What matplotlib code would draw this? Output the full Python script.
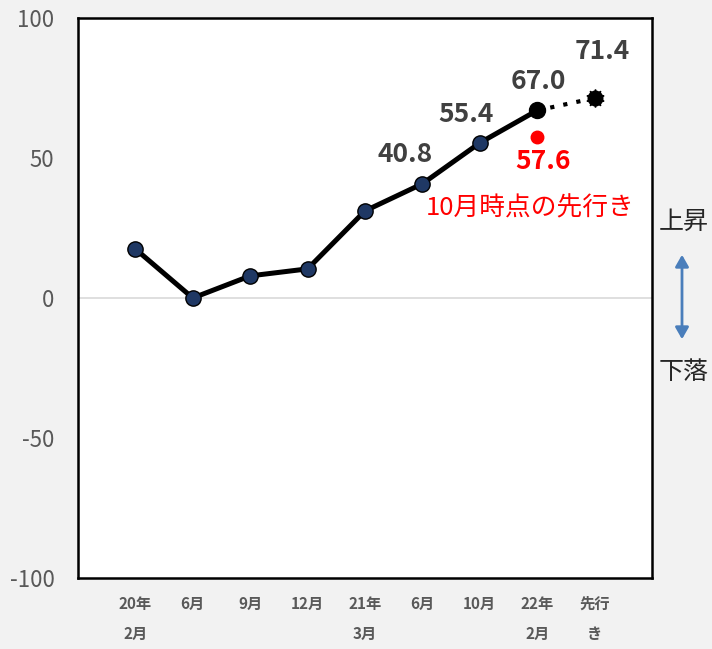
import matplotlib.pyplot as plt

plt.rcParams['font.family'] = ['Noto Sans CJK JP', 'DejaVu Sans']
plt.rcParams['axes.unicode_minus'] = False

# data
categories = ['20年\n2月', '6月', '9月', '12月', '21年\n3月', '6月', '10月', '22年\n2月', '先行\nき']
values = [17.5, 0.0, 7.9, 10.4, 31.1, 40.8, 55.4, 67.0, 71.4]
prev_forecast = 57.6   # 10月時点の先行き
labeled = {5: '40.8', 6: '55.4', 7: '67.0', 8: '71.4'}
label_offsets = {5: (-17, 29), 6: (-14, 28), 7: (1, 29), 8: (8, 47)}

fig = plt.figure(figsize=(7.12, 6.49), dpi=100, facecolor='#f2f2f2')
ax = fig.add_axes([78/712, 1-578/649, 574/712, 560/649])
ax.set_facecolor('white')

x = list(range(len(values)))
# solid part
ax.plot(x[:8], values[:8], color='black', lw=3.6, zorder=3)
ax.plot(x[:7], values[:7], 'o', ms=11, mfc='#1f3864', mec='black', mew=1, zorder=4)
# forecast part
ax.plot(x[7:], values[7:], color='black', lw=3, ls=(0, (1, 2.2)), zorder=3)
ax.plot([x[7]], [values[7]], 'o', ms=11.5, color='black', zorder=4)
ax.plot([x[8]], [values[8]], 'o', ms=10, mfc='black', mec='black', mew=1.5, ls='', zorder=4)
ax.plot([x[8]], [values[8]], marker=(10, 1, 0), ms=13, color='black', zorder=4)
# previous forecast
ax.plot([x[7]], [prev_forecast], 'o', ms=9, color='#ff0000', zorder=4)

for i, txt in labeled.items():
    ax.annotate(txt, (x[i], values[i]), xytext=label_offsets[i], textcoords='offset pixels',
                ha='center', va='center', fontsize=19, fontweight='bold', color='#404040')
ax.annotate(f'{prev_forecast:.1f}', (x[7], prev_forecast), xytext=(6, -25), textcoords='offset pixels',
            ha='center', va='center', fontsize=19, fontweight='bold', color='#ff0000')
ax.annotate('10月時点の先行き', (x[7], prev_forecast), xytext=(-7, -72), textcoords='offset pixels',
            ha='center', va='center', fontsize=18.5, color='#ff0000')

ax.axhline(0, color='#d9d9d9', lw=1.2, zorder=1)
ax.set_xlim(-1, 9)
ax.set_ylim(-100, 100)
ax.set_yticks([-100, -50, 0, 50, 100])
ax.set_xticks(x)
ax.set_xticklabels(categories, fontsize=11, fontweight='bold', color='#595959', linespacing=2.1, va='top')
ax.tick_params(axis='y', length=0, pad=17, labelsize=16, labelcolor='#595959')
ax.tick_params(axis='x', length=0, pad=13)
for s in ax.spines.values():
    s.set_color('black')
    s.set_linewidth(1.8)

# right side annotation
fig.text(684/712, 1-222/649, '上昇', ha='center', va='center', fontsize=18, color='#262626')
fig.text(684/712, 1-372/649, '下落', ha='center', va='center', fontsize=18, color='#262626')
fig.patches.append(plt.matplotlib.patches.FancyArrowPatch(
    (682/712, 1-252/649), (682/712, 1-342/649), transform=fig.transFigure,
    arrowstyle='<|-|>,head_length=7,head_width=4', color='#4a7ebb', lw=2, mutation_scale=1))

fig.savefig('out.png', dpi=100, facecolor=fig.get_facecolor())
